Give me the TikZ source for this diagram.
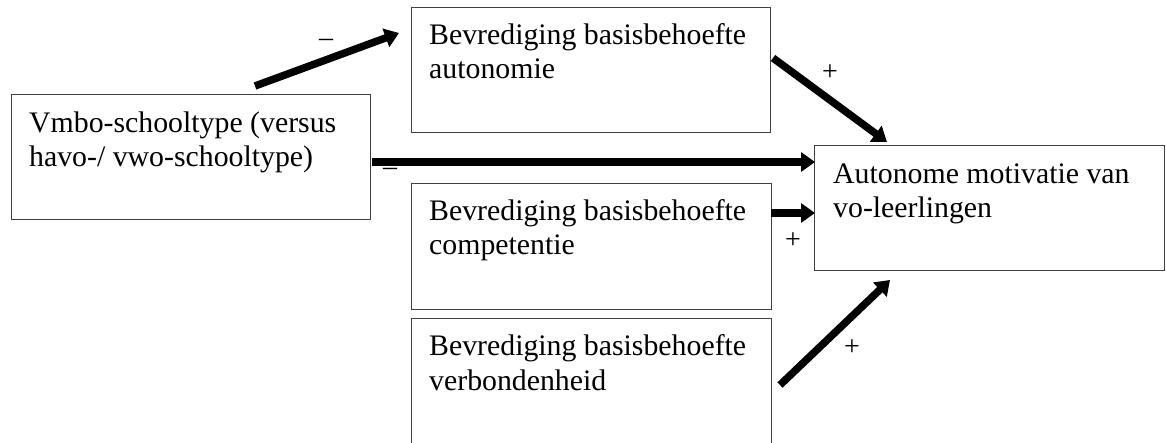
\documentclass[tikz,border=0pt]{standalone}
\usepackage{fontspec}
\setmainfont{Liberation Serif}
\usetikzlibrary{arrows.meta}
\definecolor{boxline}{HTML}{404040}
\tikzset{
  box/.style={draw=boxline, line width=1.3pt, fill=none, inner sep=0pt, anchor=north west},
  txt/.style={anchor=base west, inner sep=0pt, align=left, font=\fontsize{29.8}{34.8}\selectfont},
  lbl/.style={inner sep=0pt, font=\fontsize{28}{32}\selectfont},
  conn/.style={line width=7.5pt, -{Triangle[length=14pt,width=19pt]}}
}
\begin{document}
\begin{tikzpicture}[x=1pt,y=-1pt]
\useasboundingbox (0,0) rectangle (1166,443);
\clip (0,0) rectangle (1166,443);
% boxes
\node[box, minimum width=359pt, minimum height=125pt] (A) at (11,94) {};
\node[box, minimum width=359pt, minimum height=125pt] (B) at (411,7) {};
\node[box, minimum width=360pt, minimum height=126pt] (C) at (411,183) {};
\node[box, minimum width=360pt, minimum height=140pt] (D) at (411,318) {};
\node[box, minimum width=350pt, minimum height=125pt] (E) at (814,145) {};
% texts (anchor = baseline of the last line)
\node[txt] (At) at (29,167) {Vmbo-schooltype (versus\\havo-/ vwo-schooltype)};
\node[txt] (Bt) at (429,79) {Bevrediging basisbehoefte\\autonomie};
\node[txt] (Ct) at (429,255) {Bevrediging basisbehoefte\\competentie};
\node[txt] (Dt) at (429,390) {Bevrediging basisbehoefte\\verbondenheid};
\node[txt] (Et) at (833,218) {Autonome motivatie van\\vo-leerlingen};
% connector end points
\coordinate (a1) at (255,86);  \coordinate (b1) at (399,33);
\coordinate (b2) at (773,58);  \coordinate (e2) at (887,142);
\coordinate (a3) at (372,162); \coordinate (e3) at (815,162);
\coordinate (c4) at (771,213); \coordinate (e4) at (815,213);
\coordinate (d5) at (780,385); \coordinate (e5) at (890,280);
\draw[conn] (a1) -- (b1);
\draw[conn] (b2) -- (e2);
\draw[conn] (a3) -- (e3);
\draw[conn] (c4) -- (e4);
\draw[conn] (d5) -- (e5);
% labels
\node[lbl] (l1) at (326,43) {–};
\node[lbl] (l2) at (830,73) {+};
\node[lbl] (l3) at (390,172) {–};
\node[lbl] (l4) at (793,241) {+};
\node[lbl] (l5) at (852,348) {+};
\end{tikzpicture}
\end{document}
